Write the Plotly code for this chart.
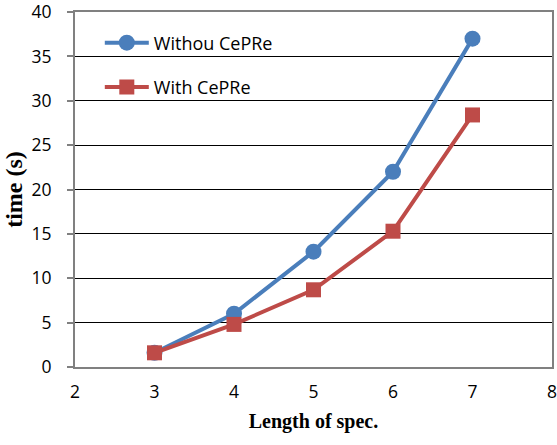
import plotly.graph_objects as go

spec_length = [3, 4, 5, 6, 7]
time_without = [1.6, 6.0, 13.0, 22.0, 37.0]
time_with = [1.6, 4.8, 8.7, 15.3, 28.4]
series_names = ["Withou CePRe", "With CePRe"]

fig = go.Figure()
fig.add_trace(go.Scatter(
    x=spec_length, y=time_without, name=series_names[0], mode="lines+markers",
    line=dict(color="#4a7ebb", width=4),
    marker=dict(symbol="circle", size=16, color="#4a7ebb"),
    legendgroup="a",
))
fig.add_trace(go.Scatter(
    x=spec_length, y=time_with, name=series_names[1], mode="lines+markers",
    line=dict(color="#be4b48", width=4),
    marker=dict(symbol="square", size=15, color="#be4b48"),
    legendgroup="b",
))

fig.update_layout(
    width=557, height=445,
    margin=dict(l=75, r=5, t=12, b=78, autoexpand=False),
    paper_bgcolor="white", plot_bgcolor="white",
    font=dict(family="Open Sans, Lato, sans-serif", size=17.5, color="black"),
    legend=dict(
        x=0.052, y=0.965, xanchor="left", yanchor="top",
        bgcolor="rgba(0,0,0,0)", tracegroupgap=18,
        font=dict(size=18), itemwidth=44,
    ),
    xaxis=dict(
        range=[2, 8], dtick=1, showgrid=False, zeroline=False,
        showline=True, linecolor="#808080", linewidth=2, mirror=True,
        ticks="", ticklabelstandoff=8, automargin=False,
        ticklabeloverflow="allow",
        title=dict(text="<b>Length of spec.</b>", standoff=12,
                   font=dict(family="Liberation Serif, Times New Roman, serif", size=20)),
    ),
    yaxis=dict(
        range=[0, 40], dtick=5, showgrid=True, gridcolor="black", gridwidth=1.2,
        zeroline=False, showline=True, linecolor="#808080", linewidth=2, mirror=True,
        ticks="outside", ticklen=6, tickcolor="#808080", tickwidth=1.5,
        ticklabelstandoff=12, automargin=False, ticklabeloverflow="allow",
        title=dict(text="<b>time (s)</b>", standoff=2,
                   font=dict(family="Liberation Serif, Times New Roman, serif", size=24)),
    ),
)

fig.write_html("out.html")
